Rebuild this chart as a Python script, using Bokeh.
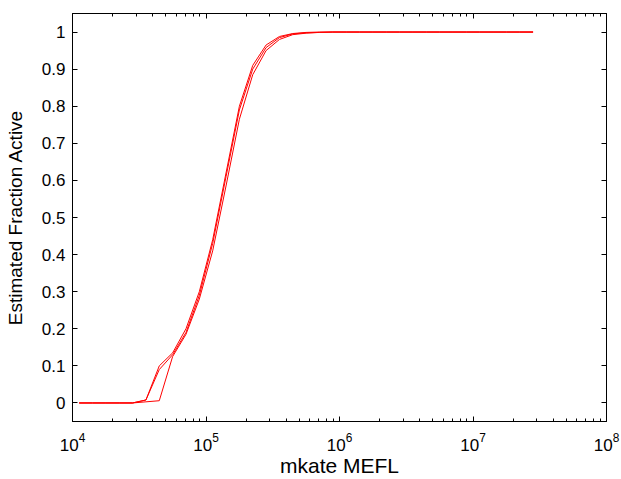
from bokeh.plotting import figure
from bokeh.models import Range1d, FixedTicker, LogAxis, LinearAxis, CustomJSTickFormatter, LogTickFormatter
from bokeh.embed import file_html
from bokeh.resources import INLINE

# bin centres (mkate MEFL)
mefl = [11220, 14125, 17783, 22387, 28184, 35481, 44668, 56234, 70795, 89125,
        112202, 141254, 177828, 223872, 281838, 354813, 446684, 562341, 707946, 891251,
        1122018, 1412538, 1778279, 2238721, 2818383, 3548134, 4466836, 5623413, 7079458, 8912509,
        11220185, 14125375, 17782794, 22387211, 28183829]

frac_a = [0, 0, 0, 0, 0, 0.008, 0.10, 0.135, 0.20, 0.30,
          0.44, 0.62, 0.80, 0.91, 0.965, 0.988, 0.996, 0.999, 1, 1,
          1, 1, 1, 1, 1, 1, 1, 1, 1, 1,
          1, 1, 1, 1, 1]
frac_b = [0, 0, 0, 0, 0, 0.008, 0.09, 0.13, 0.19, 0.29,
          0.43, 0.61, 0.79, 0.90, 0.958, 0.985, 0.995, 0.998, 0.999, 1,
          1, 1, 1, 1, 1, 1, 1, 1, 1, 1,
          1, 1, 1, 1, 1]
frac_c = [0, 0, 0, 0, 0, 0.003, 0.006, 0.125, 0.185, 0.28,
          0.41, 0.585, 0.765, 0.885, 0.95, 0.98, 0.993, 0.997, 0.999, 1,
          1, 1, 1, 1, 1, 1, 1, 1, 1, 1,
          1, 1, 1, 1, 1]

x_major = [1e4, 1e5, 1e6, 1e7, 1e8]
y_ticks = [0, 0.1, 0.2, 0.3, 0.4, 0.5, 0.6, 0.7, 0.8, 0.9, 1]

x_minor = [m * d for d in [1e4, 1e5, 1e6, 1e7] for m in range(2, 10)]

FONT = "Liberation Sans"

p = figure(width=621, height=479, x_axis_type="log",
           x_range=Range1d(1e4, 1e8), y_range=Range1d(-0.05, 1.05),
           output_backend="svg", toolbar_location=None,
           min_border_left=72, min_border_right=15, min_border_top=13, min_border_bottom=57)
p.background_fill_color = "white"
p.border_fill_color = "white"
p.outline_line_color = "black"
p.outline_line_width = 1
p.xgrid.visible = False
p.ygrid.visible = False

for ys in (frac_c, frac_b, frac_a):
    p.line(mefl, ys, line_color="#ff0000", line_width=1)

xt = FixedTicker(ticks=x_major, minor_ticks=x_minor)
yt = FixedTicker(ticks=y_ticks, minor_ticks=[])
yfmt = CustomJSTickFormatter(code="return (Math.round(tick*10)/10).toString();")

def style(ax, label_px="19px"):
    ax.major_tick_in = 5
    ax.major_tick_out = 0
    ax.minor_tick_in = 3
    ax.minor_tick_out = 0
    ax.axis_line_color = "black"
    ax.major_tick_line_color = "black"
    ax.minor_tick_line_color = "black"
    ax.major_label_text_font = FONT
    ax.major_label_text_font_size = "17px"
    ax.major_label_text_color = "black"
    ax.axis_label_text_font = FONT
    ax.axis_label_text_font_style = "normal"
    ax.axis_label_text_font_size = label_px
    ax.axis_label_text_color = "black"

xa = p.xaxis[0]
xa.ticker = xt
xa.formatter = LogTickFormatter()
xa.axis_label = "mkate MEFL"
xa.major_label_standoff = 11
xa.axis_label_standoff = 0
style(xa, "21px")

ya = p.yaxis[0]
ya.ticker = yt
ya.formatter = yfmt
ya.axis_label = "Estimated Fraction Active"
ya.major_label_standoff = 7
ya.axis_label_standoff = 13
style(ya, "19px")

top = LogAxis(ticker=FixedTicker(ticks=x_major, minor_ticks=x_minor),
              formatter=CustomJSTickFormatter(code="return '';"), major_label_standoff=0)
style(top)
p.add_layout(top, "above")

right = LinearAxis(ticker=FixedTicker(ticks=y_ticks, minor_ticks=[]),
                   formatter=CustomJSTickFormatter(code="return '';"), major_label_standoff=0)
style(right)
p.add_layout(right, "right")

open("out.html", "w").write(file_html(p, INLINE))
